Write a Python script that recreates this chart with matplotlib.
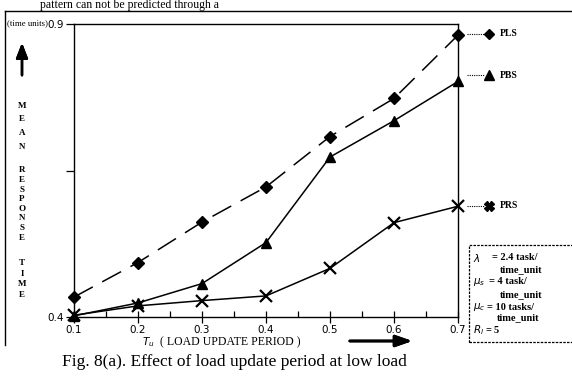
import matplotlib
matplotlib.use("Agg")
import matplotlib.pyplot as plt
from matplotlib.patches import Rectangle
from matplotlib.lines import Line2D

# Load update period (time units)
load_update_period = [0.1, 0.2, 0.3, 0.4, 0.5, 0.6, 0.7]

# Mean response time for each policy
pls_response = [0.434, 0.493, 0.562, 0.622, 0.708, 0.773, 0.881]
pbs_response = [0.402, 0.424, 0.457, 0.527, 0.673, 0.735, 0.802]
prs_response = [0.403, 0.419, 0.428, 0.436, 0.483, 0.561, 0.589]

y_ticks = [0.4, 0.65, 0.9]
y_tick_labels = ["0.4", "", "0.9"]
x_tick_labels = ["0.1", "0.2", "0.3", "0.4", "0.5", "0.6", "0.7"]

W, H = 572, 383
fig = plt.figure(figsize=(W / 100, H / 100), dpi=100)
fig.patch.set_facecolor("white")


def fx(px):
    return px / W


def fy(py):
    return 1 - py / H


serif = "Liberation Serif"

ax = fig.add_axes([fx(74), fy(317), fx(458) - fx(74), fy(24) - fy(317)])
ax.plot(load_update_period, pls_response, color="black", lw=1.1,
        dashes=(14, 7), marker="D", ms=6.5, clip_on=False)
ax.plot(load_update_period, pbs_response, color="black", lw=1.1,
        marker="^", ms=7.5, clip_on=False)
ax.plot(load_update_period, prs_response, color="black", lw=1.1,
        marker="x", ms=8, mew=1.6, clip_on=False)

ax.set_xlim(0.1, 0.7)
ax.set_ylim(0.4, 0.9)
ax.set_xticks(load_update_period)
ax.set_xticklabels(x_tick_labels, fontsize=7.5, family="DejaVu Sans")
ax.set_xticks([0.15, 0.25, 0.35, 0.45, 0.55, 0.65], minor=True)
ax.tick_params(axis="x", which="major", direction="inout", length=8, width=0.9, pad=2)
ax.tick_params(axis="x", which="minor", direction="in", length=4, width=0.9)
ax.set_yticks(y_ticks)
ax.set_yticklabels(y_tick_labels, fontsize=7.5, family="DejaVu Sans")
ax.tick_params(axis="y", direction="out", length=6, width=0.9, pad=1)
for sp in ax.spines.values():
    sp.set_linewidth(1.0)

# Outer frame (left and top edges)
fig.add_artist(Line2D([fx(5), fx(5)], [fy(11), fy(345)], color="black", lw=1.0))
fig.add_artist(Line2D([fx(5), fx(572)], [fy(11), fy(11)], color="black", lw=1.0))

# Running text above the frame
fig.text(fx(40), fy(8), "pattern can not be predicted through a", family=serif,
         fontsize=8.5, ha="left", va="baseline")

# Y-axis title
fig.text(fx(7), fy(23), "(time units)", family=serif, fontsize=6.3, ha="left", va="center")
fig.add_artist(plt.annotate("", xy=(fx(22), fy(40)), xytext=(fx(22), fy(78)),
                            xycoords="figure fraction", textcoords="figure fraction",
                            arrowprops=dict(arrowstyle="-|>,head_width=0.35,head_length=0.9",
                                            color="black", lw=1.8)))
letters = [("M", 106), ("E", 119), ("A", 133), ("N", 147),
           ("R", 170), ("E", 180), ("S", 190), ("P", 199), ("O", 209),
           ("N", 218), ("S", 228), ("E", 238),
           ("T", 263), ("I", 274), ("M", 284), ("E", 295)]
for ch, py in letters:
    fig.text(fx(22), fy(py), ch, family=serif, fontsize=6.5, fontweight="bold",
             ha="center", va="center")

# X-axis title with arrow
fig.text(fx(142), fy(342), r"$T_u$", fontsize=7.5, ha="left", va="center")
fig.text(fx(160), fy(342), "( LOAD UPDATE PERIOD )", family=serif, fontsize=8.5,
         ha="left", va="center")
fig.add_artist(plt.annotate("", xy=(fx(415), fy(341)), xytext=(fx(347), fy(341)),
                            xycoords="figure fraction", textcoords="figure fraction",
                            arrowprops=dict(arrowstyle="-|>,head_width=0.35,head_length=1.0",
                                            color="black", lw=2.0)))

# Series labels on the right
series_tags = [("PLS", "D", 34, 5.5), ("PBS", "^", 75, 7), ("PRS", "X", 206, 6.5)]
for name, mk, py, msz in series_tags:
    fig.add_artist(Line2D([fx(467), fx(484)], [fy(py), fy(py)], color="black",
                          lw=0.8, ls=(0, (1, 1))))
    fig.add_artist(Line2D([fx(489)], [fy(py)], color="black", marker=mk, ms=msz, lw=0))
    fig.text(fx(500), fy(py), name, family=serif, fontsize=7, fontweight="bold",
             ha="left", va="center")

# Parameter box
fig.add_artist(Rectangle((fx(469), fy(342)), fx(120), fy(245) - fy(342),
                         transform=fig.transFigure, fill=False, ec="black",
                         lw=0.9, ls=(0, (2, 1))))
params = [(473, 258, r"$\lambda$"), (492, 258, "= 2.4 task/"),
          (500, 270, "time_unit"),
          (473, 282, r"$\mu_s$"), (489, 282, "= 4 task/"),
          (500, 295, "time_unit"),
          (473, 307, r"$\mu_c$"), (487, 307, "= 10 tasks/"),
          (497, 318, "time_unit"),
          (473, 330, r"$R_l$ = 5")]
for px, py, t in params:
    fig.text(fx(px), fy(py), t, family=serif, fontsize=7.5, fontweight="bold",
             ha="left", va="center")

# Caption
fig.text(fx(62), fy(362), "Fig. 8(a). Effect of load update period at low load",
         family=serif, fontsize=12.5, ha="left", va="center")

fig.savefig("out.png", dpi=100, facecolor="white")
